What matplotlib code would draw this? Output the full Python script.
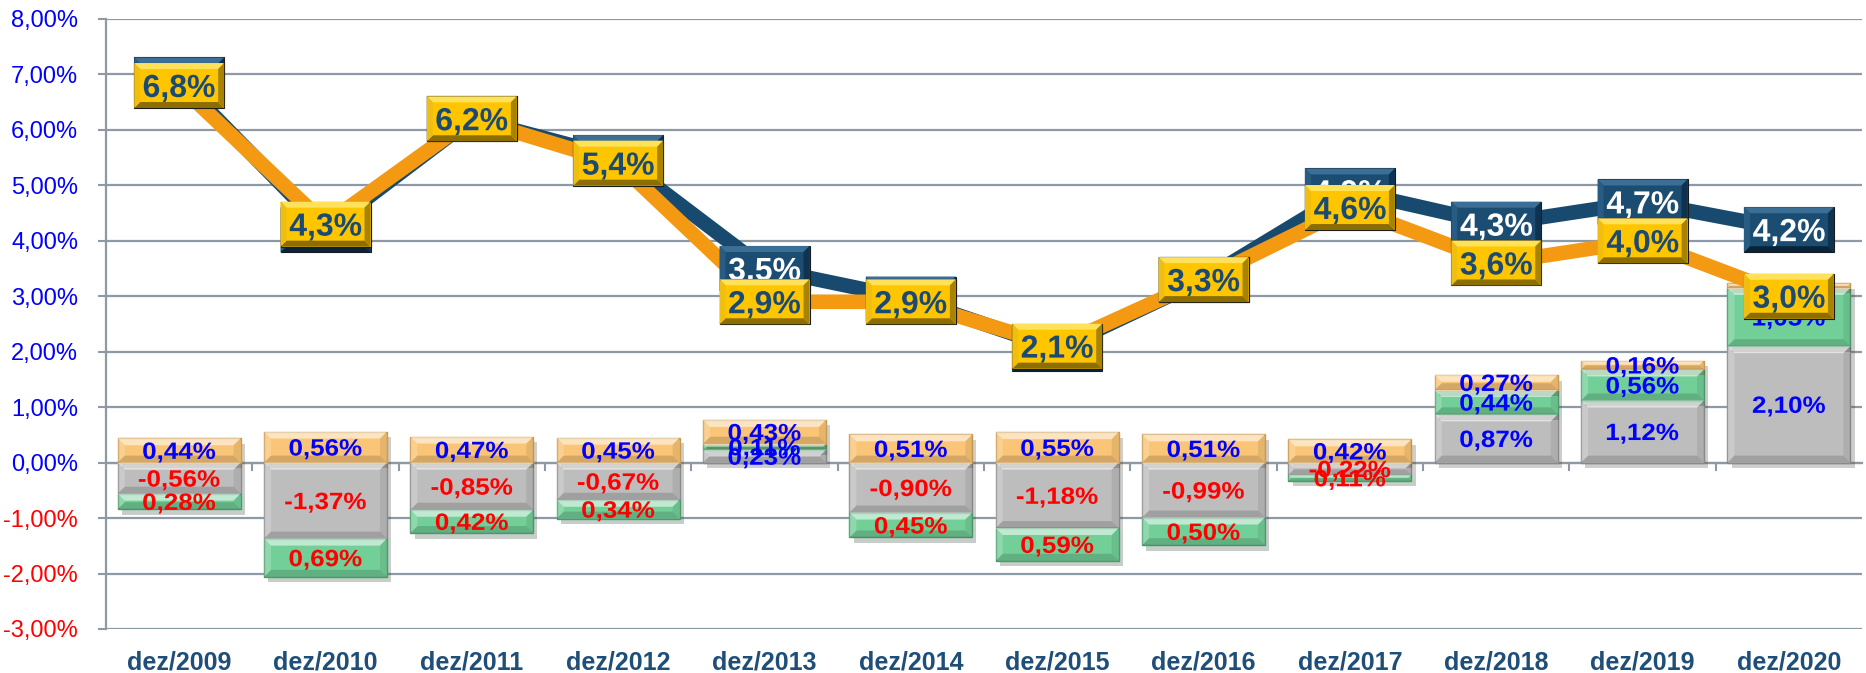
import matplotlib
matplotlib.use('Agg')
import matplotlib.pyplot as plt
import matplotlib.patheffects as pe
import matplotlib.transforms as mt
from matplotlib.textpath import TextPath
from matplotlib.patches import PathPatch, Polygon, Rectangle
from matplotlib.font_manager import FontProperties
import numpy as np

# dados
anos = ['dez/2009', 'dez/2010', 'dez/2011', 'dez/2012', 'dez/2013', 'dez/2014',
        'dez/2015', 'dez/2016', 'dez/2017', 'dez/2018', 'dez/2019', 'dez/2020']
cinza = [-0.56, -1.37, -0.85, -0.67, 0.23, -0.90, -1.18, -0.99, -0.22, 0.87, 1.12, 2.10]
verde = [-0.28, -0.69, -0.42, -0.34, 0.11, -0.45, -0.59, -0.50, -0.11, 0.44, 0.56, 1.05]
laranja = [0.44, 0.56, 0.47, 0.45, 0.43, 0.51, 0.55, 0.51, 0.42, 0.27, 0.16, 0.08]
linha_azul = [6.9, 4.2, 6.2, 5.5, 3.5, 2.95, 2.05, 3.3, 4.9, 4.3, 4.7, 4.2]
linha_laranja = [6.8, 4.3, 6.2, 5.4, 2.9, 2.9, 2.1, 3.3, 4.6, 3.6, 4.0, 3.0]

AZUL_ESC = '#174A6E'
LARANJA = '#F39A12'
GRADE = '#8E99A6'
FP = FontProperties(family='Liberation Sans', weight='bold')

plt.rcParams['font.family'] = ['Liberation Sans', 'DejaVu Sans']

fig = plt.figure(figsize=(18.66, 6.73), dpi=100)
ax = fig.add_axes([0.0568, 0.0654, 0.9411, 0.9064])
ax.set_xlim(-0.5, len(anos) - 0.5)
ax.set_ylim(-3, 8)


def texto(x, y, s, tam, cor, z, fator=1.0):
    # texto desenhado como path para poder alargar na horizontal
    tp = TextPath((0, 0), s, size=tam, prop=FP)
    bb = tp.get_extents()
    esc = fig.dpi / 72
    tr = (mt.Affine2D().translate(-(bb.x0 + bb.x1) / 2, -0.716 * tam / 2)
          .scale(fator * esc, esc) + mt.ScaledTranslation(x, y, ax.transData))
    ax.add_patch(PathPatch(tp, transform=tr, fc=cor, ec='none', zorder=z))


def caixa(x, y, cores, z, w=90, h=45, b=6):
    face, topo, baixo, esq, dir_ = cores
    tr = mt.Affine2D() + mt.ScaledTranslation(x, y, ax.transData)
    L, R, B, T = -w / 2, w / 2, -h / 2, h / 2
    ax.add_patch(Rectangle((L, B), w, h, transform=tr, fc=face, ec='#1A1A1A',
                           lw=0.8, zorder=z))
    for pts, c in [([(L, T), (R, T), (R - b, T - b), (L + b, T - b)], topo),
                   ([(L, B), (R, B), (R - b, B + b), (L + b, B + b)], baixo),
                   ([(L, B), (L, T), (L + b, T - b), (L + b, B + b)], esq),
                   ([(R, B), (R, T), (R - b, T - b), (R - b, B + b)], dir_)]:
        ax.add_patch(Polygon(pts, closed=True, transform=tr, fc=c, ec='none', zorder=z))


x = np.arange(len(anos))
base_pos = np.zeros(len(anos))
base_neg = np.zeros(len(anos))
sombra = [pe.SimplePatchShadow(offset=(3, -4), alpha=0.25), pe.Normal()]
p0, p1 = ax.transData.transform([(0, 0), (1, 1)])
ux = 7 / (p1[0] - p0[0])
uy = 7 / (p1[1] - p0[1])

series = [(cinza, '#BDBDBD', '#8A8A8A', 'cinza'),
          (verde, '#72CF98', '#4C9A6C', 'verde'),
          (laranja, '#FAC576', '#C99A50', 'laranja')]
for vals, cor, borda, nome in series:
    vals = np.array(vals)
    base = np.where(vals >= 0, base_pos, base_neg)
    barras = ax.bar(x, vals, 0.84, bottom=base, color=cor, edgecolor=borda,
                    linewidth=1.0, zorder=3)
    for bar in barras:
        bar.set_path_effects(sombra)
        lo = min(bar.get_y(), bar.get_y() + bar.get_height())
        hi = max(bar.get_y(), bar.get_y() + bar.get_height())
        L, R = bar.get_x(), bar.get_x() + bar.get_width()
        f = min(uy, 0.45 * (hi - lo))
        g = ux * f / uy
        for pts, c, a in [([(L, hi), (R, hi), (R - g, hi - f), (L + g, hi - f)], 'white', 0.55),
                          ([(L, lo), (R, lo), (R - g, lo + f), (L + g, lo + f)], 'black', 0.15),
                          ([(R, lo), (R, hi), (R - g, hi - f), (R - g, lo + f)], 'black', 0.08),
                          ([(L, lo), (L, hi), (L + g, hi - f), (L + g, lo + f)], 'white', 0.2)]:
            ax.add_patch(Polygon(pts, closed=True, fc=c, alpha=a, ec='none', zorder=3.1))
    for xi, v, b0 in zip(x, vals, base):
        if nome == 'cinza':
            txt = f'{v:.2f}'.replace('.', ',') + '%'
        else:
            txt = f'{abs(v):.2f}'.replace('.', ',') + '%'
        c = '#0000FF' if v >= 0 else '#FF0000'
        texto(xi, b0 + v / 2, txt, 17, c, 4, fator=1.1)
    base_pos = base_pos + np.where(vals >= 0, vals, 0)
    base_neg = base_neg + np.where(vals < 0, vals, 0)

# linhas
ax.plot(x, linha_azul, color=AZUL_ESC, lw=10.5, zorder=5, solid_joinstyle='round')
ax.plot(x, linha_laranja, color=LARANJA, lw=10.5, zorder=6, solid_joinstyle='round')

cores_azul = ('#1B4D73', '#3C6F96', '#08233A', '#285C83', '#0E3250')
cores_ouro = ('#FFC600', '#FFE259', '#8C6D00', '#F0BE10', '#A88300')
for xi, v in zip(x, linha_azul):
    caixa(xi, v, cores_azul, 7)
    texto(xi, v, f'{v:.1f}'.replace('.', ',') + '%', 23, 'white', 7.5)
for xi, v in zip(x, linha_laranja):
    caixa(xi, v, cores_ouro, 8)
    texto(xi, v, f'{v:.1f}'.replace('.', ',') + '%', 23, '#1B4A72', 8.5)

# eixos
ax.set_xlim(-0.5, len(anos) - 0.5)
ax.set_ylim(-3, 8)
yt = np.arange(-3, 9, 1)
ax.set_yticks(yt)
ax.set_yticklabels([f'{v:.2f}'.replace('.', ',') + '%' for v in yt], fontsize=17)
for lab, v in zip(ax.get_yticklabels(), yt):
    lab.set_color('#0000FF' if v >= 0 else '#FF0000')
ax.tick_params(axis='y', length=6, width=1.5, color=GRADE, pad=14)
ax.yaxis.grid(True, color=GRADE, lw=1.6, zorder=0)
ax.set_axisbelow(True)

ax.spines['top'].set_visible(False)
ax.spines['right'].set_visible(False)
ax.spines['left'].set_color(GRADE)
ax.spines['left'].set_linewidth(1.6)
ax.spines['bottom'].set_position(('data', 0))
ax.spines['bottom'].set_color(GRADE)
ax.spines['bottom'].set_linewidth(1.6)
ax.set_xticks(np.arange(0.5, len(anos) - 0.5, 1))
ax.set_xticklabels([])
ax.tick_params(axis='x', length=6, width=1.5, color=GRADE, direction='out')

for xi, nome in zip(x, anos):
    ax.text(xi, -0.055, nome, transform=ax.get_xaxis_transform(), ha='center',
            va='center', fontsize=18, fontweight='bold', color='#1F4E79')

fig.savefig('out.png', dpi=100)
